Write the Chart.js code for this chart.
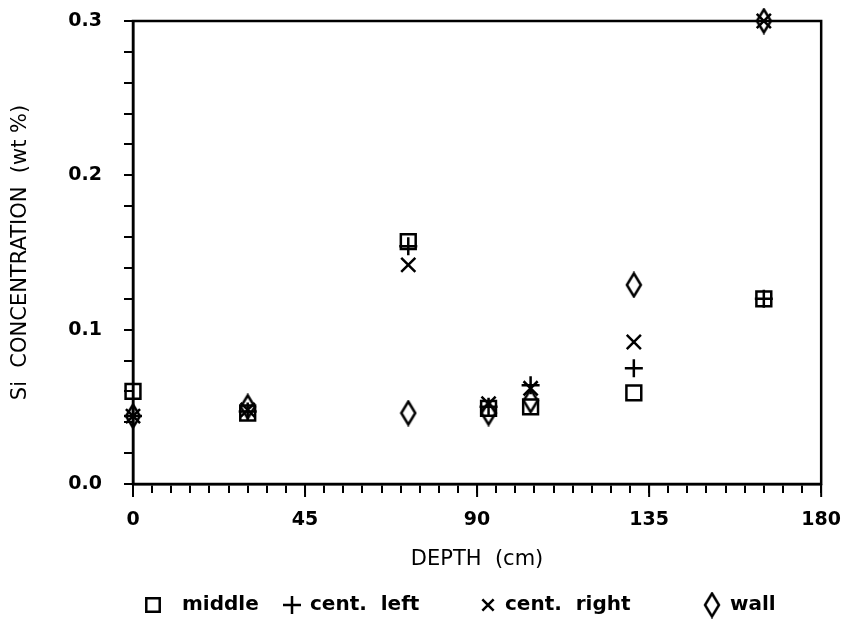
<!DOCTYPE html>
<html>
<head>
<meta charset="utf-8">
<script src="https://cdn.jsdelivr.net/npm/chart.js@4.4.1/dist/chart.umd.min.js"></script>
<style>
  html, body { margin: 0; padding: 0; background: #fff; }
  #wrap { width: 857px; height: 622px; }
</style>
</head>
<body>
<div id="wrap"><canvas id="myChart" width="857" height="622"></canvas></div>
<script>
const depth = [0, 30, 72, 93, 104, 131, 165];
const middle = [0.060, 0.046, 0.157, 0.049, 0.050, 0.059, 0.120];
const centLeft = [0.044, 0.047, 0.154, 0.050, 0.064, 0.075, 0.120];
const centRight = [0.044, 0.048, 0.142, 0.052, 0.062, 0.092, 0.300];
const wall = [0.044, 0.050, 0.046, 0.046, 0.054, 0.129, 0.300];
const xTickLabels = [0, 45, 90, 135, 180];
const yTickLabels = [0.0, 0.1, 0.2, 0.3];

const FONT = "'DejaVu Sans', sans-serif";

// diamond marker, taller than wide
function diamond(w, h) {
  const c = document.createElement("canvas");
  c.width = w + 4;
  c.height = h + 4;
  const g = c.getContext("2d");
  g.strokeStyle = "#000";
  g.lineWidth = 2.5;
  g.beginPath();
  g.moveTo(c.width / 2, 2);
  g.lineTo(c.width - 2, c.height / 2);
  g.lineTo(c.width / 2, c.height - 2);
  g.lineTo(2, c.height / 2);
  g.closePath();
  g.stroke();
  return c;
}

const toPts = (arr) => arr.map((v, i) => ({ x: depth[i], y: v }));

// box round the plot, longer ticks at the labels, legend row at the bottom
const frame = {
  id: "frame",
  afterDraw(chart) {
    const { ctx, chartArea: a } = chart;
    const xs = chart.scales.x;
    ctx.save();
    ctx.strokeStyle = "#000";
    ctx.lineWidth = 2.5;
    ctx.strokeRect(a.left, a.top, a.right - a.left, a.bottom - a.top);

    ctx.lineWidth = 2;
    ctx.beginPath();
    xTickLabels.forEach((v) => {
      const px = xs.getPixelForValue(v);
      ctx.moveTo(px, a.bottom);
      ctx.lineTo(px, a.bottom + 13);
    });
    ctx.stroke();

    // legend: marker x, text x (offsets from plot left)
    const slots = [[20, 49], [159, 177], [355, 372], [579, 597]];
    const radii = [9.5, 9, 8, 8];
    const y = chart.height - 17;
    ctx.font = "bold 20px " + FONT;
    ctx.textBaseline = "middle";
    chart.data.datasets.forEach((ds, i) => {
      ctx.fillStyle = "rgba(0,0,0,0)";
      ctx.strokeStyle = "#000";
      ctx.lineWidth = 2.5;
      Chart.helpers.drawPoint(ctx, { pointStyle: ds.pointStyle, rotation: 0, borderWidth: 2.5, radius: radii[i] }, a.left + slots[i][0], y);
      ctx.fillStyle = "#000";
      ctx.fillText(ds.label, a.left + slots[i][1], y);
    });
    ctx.restore();
  },
};

const common = {
  borderWidth: 2.5,
  borderColor: "#000",
  backgroundColor: "rgba(0,0,0,0)",
  clip: false,
};

const ctx = document.getElementById("myChart");
new Chart(ctx, {
  type: "scatter",
  data: {
    datasets: [
      { label: "middle", data: toPts(middle), pointStyle: "rect", pointRadius: 10.5, ...common },
      { label: "cent.  left", data: toPts(centLeft), pointStyle: "cross", pointRadius: 9, ...common },
      { label: "cent.  right", data: toPts(centRight), pointStyle: "crossRot", pointRadius: 10, ...common },
      { label: "wall", data: toPts(wall), pointStyle: diamond(14, 23), pointRadius: 10, ...common },
    ],
  },
  options: {
    responsive: false,
    animation: false,
    layout: {
      padding: { top: 21, right: 35, left: 0, bottom: 46 },
    },
    plugins: {
      legend: { display: false },
      tooltip: { enabled: false },
    },
    scales: {
      x: {
        type: "linear",
        min: 0,
        max: 180,
        afterFit: (s) => {
          s.height = 92;
        },
        ticks: {
          stepSize: 5,
          autoSkip: false,
          maxRotation: 0,
          color: "#000",
          padding: 16,
          font: { family: FONT, size: 19, weight: "bold" },
          callback: (v) => (xTickLabels.includes(v) ? String(v) : ""),
        },
        grid: {
          drawOnChartArea: false,
          drawTicks: true,
          tickLength: 9,
          color: "#000",
          lineWidth: 2,
        },
        border: { display: true, color: "#000", width: 2.5 },
        title: {
          display: true,
          text: "DEPTH  (cm)",
          color: "#000",
          font: { family: FONT, size: 21 },
          padding: { top: 0, bottom: 4 },
        },
      },
      y: {
        min: 0,
        max: 0.3,
        afterFit: (s) => {
          s.width = 133;
          s.paddingTop = 0;
          s.paddingBottom = 0;
        },
        ticks: {
          stepSize: 0.02,
          autoSkip: false,
          color: "#000",
          padding: 22,
          font: { family: FONT, size: 19, weight: "bold" },
          callback: (v) => {
            const r = Math.round(v * 100);
            return r % 10 === 0 ? (r / 100).toFixed(1) : "";
          },
        },
        grid: {
          drawOnChartArea: false,
          drawTicks: true,
          tickLength: 9,
          color: "#000",
          lineWidth: 2,
        },
        border: { display: true, color: "#000", width: 2.5 },
        title: {
          display: true,
          text: "Si  CONCENTRATION  (wt %)",
          color: "#000",
          font: { family: FONT, size: 21 },
          padding: { top: 8, bottom: 0 },
        },
      },
    },
  },
  plugins: [frame],
});
</script>
</body>
</html>
